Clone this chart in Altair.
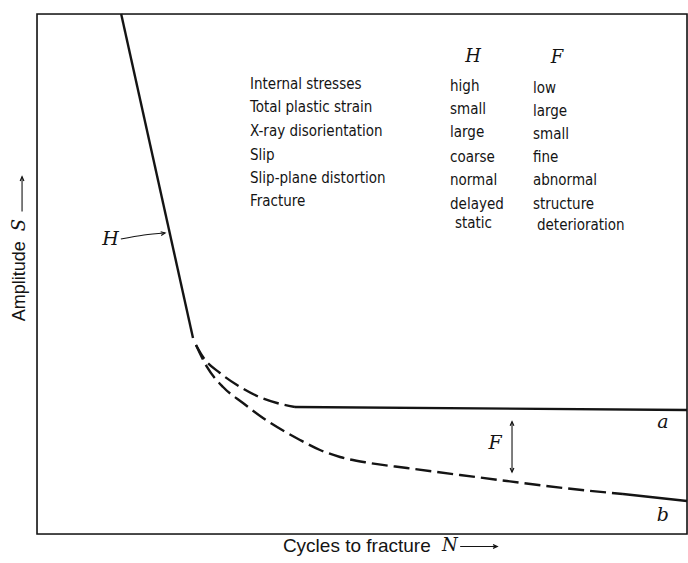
import altair as alt
import pandas as pd

# S-N diagram: hardening (H) branch and fatigue (F) branches a and b.
# Coordinates are in percent of the plotting box: N from 0 to 100, S from 0 to 100.

# steep H branch
h_x = [12.95, 24.0]
h_y = [100.0, 37.7]

# branch a (dashed knee, then a flat solid tail)
a_dash_x = [24.46, 25.54, 28.15, 30.77, 33.85, 36.92, 39.69]
a_dash_y = [36.35, 34.04, 30.96, 28.65, 26.54, 25.19, 24.42]
a_solid_x = [39.69, 100.0]
a_solid_y = [24.42, 23.85]

# branch b (long dashed descent, solid at the end)
b_dash_x = [24.46, 26.15, 28.62, 31.69, 34.77, 40.46, 43.54, 46.62, 51.23, 56.92,
            65.08, 72.31, 80.92, 90.15]
b_dash_y = [36.35, 32.12, 28.27, 25.19, 22.31, 18.08, 16.15, 14.81, 13.65, 12.69,
            11.35, 10.19, 8.85, 7.69]
b_solid_x = [90.15, 100.0]
b_solid_y = [7.69, 6.35]

# property table
row_labels = ["Internal stresses", "Total plastic strain", "X-ray disorientation",
              "Slip", "Slip-plane distortion", "Fracture"]
row_label_y = [86.5, 82.1, 77.5, 72.9, 68.5, 64.0]
h_values = ["high", "small", "large", "coarse", "normal", "delayed", "static"]
h_value_x = [63.54, 63.54, 63.54, 63.54, 63.54, 63.54, 64.3]
h_value_y = [86.2, 81.7, 77.3, 72.5, 68.1, 63.5, 59.8]
f_values = ["low", "large", "small", "fine", "abnormal", "structure", "deterioration"]
f_value_x = [76.3, 76.3, 76.3, 76.3, 76.3, 76.3, 76.92]
f_value_y = [85.8, 81.3, 76.9, 72.5, 68.0, 63.5, 59.4]
label_col_x = 32.77
header_text = ["H", "F"]
header_x = [67.08, 80.0]
header_y = [91.7, 91.5]

# curve letters
letter_text = ["a", "b", "F", "H"]
letter_x = [96.3, 96.3, 70.46, 11.3]
letter_y = [21.5, 3.7, 17.5, 56.7]

X = alt.Scale(domain=[0, 100])
Y = alt.Scale(domain=[0, 100])
INK = "#141414"


def frame(xs, ys, name):
    return pd.DataFrame({"x": xs, "y": ys, "seg": name, "order": range(len(xs))})


def enc(chart):
    return chart.encode(
        x=alt.X("x:Q", scale=X, axis=None),
        y=alt.Y("y:Q", scale=Y, axis=None),
    )


# box around the plotting area
box = alt.Chart(pd.DataFrame({"x": [0], "x2": [100], "y": [0], "y2": [100]})).mark_rect(
    filled=False, stroke=INK, strokeWidth=1.6).encode(
    x=alt.X("x:Q", scale=X, axis=None), x2="x2:Q",
    y=alt.Y("y:Q", scale=Y, axis=None), y2="y2:Q")

solid = pd.concat([frame(h_x, h_y, "H"), frame(a_solid_x, a_solid_y, "a"),
                   frame(b_solid_x, b_solid_y, "b")])
dashed = pd.concat([frame(a_dash_x, a_dash_y, "a"), frame(b_dash_x, b_dash_y, "b")])

solid_lines = enc(alt.Chart(solid).mark_line(color=INK, strokeWidth=2.4)).encode(
    detail="seg:N", order="order:Q")
dashed_lines = enc(alt.Chart(dashed).mark_line(
    color=INK, strokeWidth=2.4, strokeDash=[16, 6], interpolate="monotone")).encode(
    detail="seg:N", order="order:Q")

table = pd.DataFrame({
    "x": [label_col_x] * len(row_labels) + h_value_x + f_value_x,
    "y": row_label_y + h_value_y + f_value_y,
    "t": row_labels + h_values + f_values,
})
table_text = enc(alt.Chart(table).mark_text(
    font="Liberation Sans Narrow, DejaVu Sans Condensed, sans-serif", fontSize=15,
    align="left", baseline="middle", color=INK)).encode(text="t:N")

headers = pd.DataFrame({"x": header_x, "y": header_y, "t": header_text})
header_marks = enc(alt.Chart(headers).mark_text(
    font="DejaVu Serif", fontStyle="italic", fontSize=18, align="center",
    baseline="middle", color=INK)).encode(text="t:N")

letters = pd.DataFrame({"x": letter_x, "y": letter_y, "t": letter_text})
letter_marks = enc(alt.Chart(letters).mark_text(
    font="DejaVu Serif", fontStyle="italic", fontSize=19, align="center",
    baseline="middle", color=INK)).encode(text="t:N")

# axis captions, set just outside the box
x_title = pd.DataFrame({"x": [49.2], "y": [-2.4], "t": ["Cycles to fracture"]})
x_title_mark = enc(alt.Chart(x_title).mark_text(
    font="Liberation Sans", fontSize=19, align="center", baseline="middle",
    color=INK)).encode(text="t:N")
n_sym = pd.DataFrame({"x": [63.5], "y": [-2.4], "t": ["N"]})
n_sym_mark = enc(alt.Chart(n_sym).mark_text(
    font="DejaVu Serif", fontStyle="italic", fontSize=18, align="center",
    baseline="middle", color=INK)).encode(text="t:N")

y_title = pd.DataFrame({"x": [-2.6], "y": [48.6], "t": ["Amplitude"]})
y_title_mark = enc(alt.Chart(y_title).mark_text(
    font="Liberation Sans", fontSize=18, angle=270, align="center",
    baseline="middle", color=INK)).encode(text="t:N")
s_sym = pd.DataFrame({"x": [-2.6], "y": [59.4], "t": ["S"]})
s_sym_mark = enc(alt.Chart(s_sym).mark_text(
    font="DejaVu Serif", fontStyle="italic", fontSize=18, angle=270, align="center",
    baseline="middle", color=INK)).encode(text="t:N")

# arrows: shafts and open heads
shaft_x = [65.1, 70.8, -2.3, -2.3, 12.9, 16.46, 19.7, 73.08, 73.08]
shaft_y = [-2.4, -2.4, 62.0, 68.7, 56.73, 57.5, 57.88, 21.6, 11.9]
shaft_id = ["n", "n", "s", "s", "h", "h", "h", "f", "f"]
shafts = pd.DataFrame({"x": shaft_x, "y": shaft_y, "seg": shaft_id,
                       "order": range(len(shaft_x))})
shaft_marks = enc(alt.Chart(shafts).mark_line(
    color=INK, strokeWidth=1.1, interpolate="monotone")).encode(
    detail="seg:N", order="order:Q")

head_x = [70.8, -2.3, 19.7, 73.08, 73.08]
head_y = [-2.4, 68.7, 57.88, 21.6, 11.9]
head_angle = [0, 270, 352, 270, 90]
heads = pd.DataFrame({"x": head_x, "y": head_y, "ang": head_angle})
head_marks = enc(alt.Chart(heads).mark_point(
    shape="M -1 -0.45 L 0 0 L -1 0.45", filled=False, stroke=INK, strokeWidth=1.2,
    size=70, opacity=1)).encode(angle=alt.Angle("ang:Q", scale=None))

chart = alt.layer(
    box, solid_lines, dashed_lines, table_text, header_marks, letter_marks,
    x_title_mark, n_sym_mark, y_title_mark, s_sym_mark, shaft_marks, head_marks,
).properties(
    width=650, height=520,
    autosize=alt.AutoSizeParams(type="none"),
    padding={"left": 37, "top": 14, "right": 1, "bottom": 29},
).configure_view(
    strokeWidth=0,
).configure(background="white")

chart.save("out.html", embed_options={"renderer": "svg", "actions": False})
